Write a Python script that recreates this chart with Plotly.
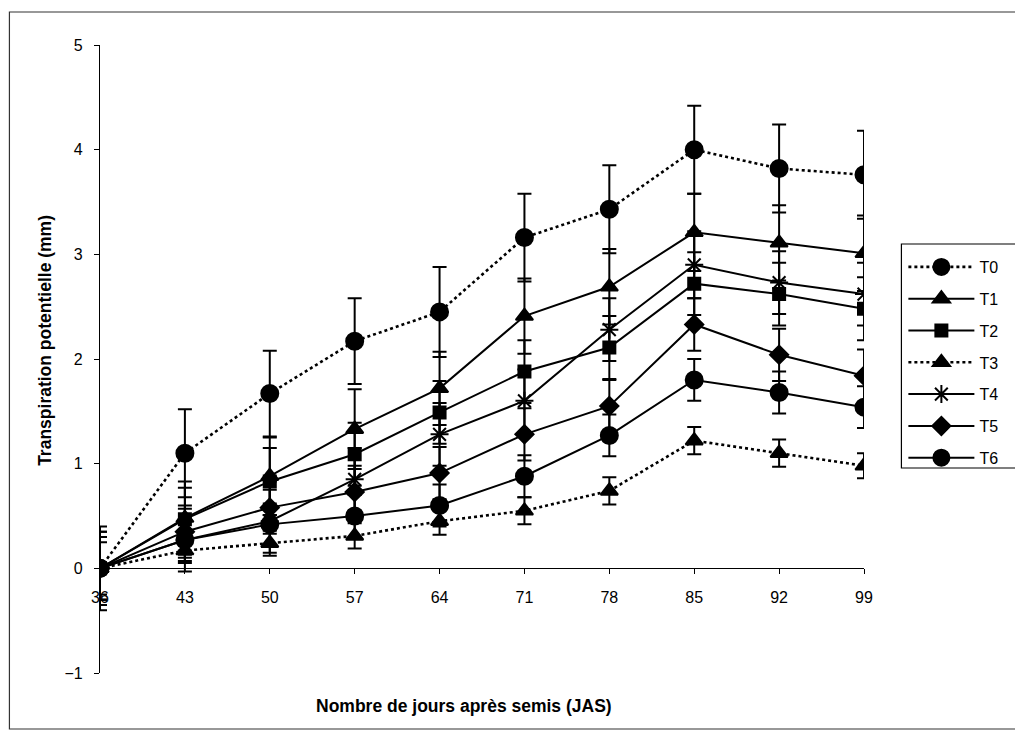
import plotly.graph_objects as go

days = ["36", "43", "50", "57", "64", "71", "78", "85", "92", "99"]

T0 = [0, 1.10, 1.67, 2.17, 2.45, 3.16, 3.43, 4.00, 3.82, 3.76]
T1 = [0, 0.48, 0.88, 1.33, 1.72, 2.41, 2.69, 3.21, 3.11, 3.01]
T2 = [0, 0.47, 0.83, 1.09, 1.49, 1.88, 2.11, 2.72, 2.62, 2.48]
T3 = [0, 0.17, 0.24, 0.31, 0.45, 0.55, 0.74, 1.22, 1.10, 0.98]
T4 = [0, 0.27, 0.45, 0.85, 1.28, 1.60, 2.28, 2.90, 2.73, 2.62]
T5 = [0, 0.35, 0.58, 0.73, 0.91, 1.28, 1.55, 2.33, 2.04, 1.84]
T6 = [0, 0.27, 0.42, 0.50, 0.60, 0.88, 1.27, 1.80, 1.68, 1.54]

E0 = [0.40, 0.42, 0.41, 0.41, 0.43, 0.42, 0.42, 0.42, 0.42, 0.42]
E1 = [0.35, 0.35, 0.37, 0.38, 0.35, 0.36, 0.36, 0.37, 0.36, 0.36]
E2 = [0.30, 0.30, 0.32, 0.30, 0.30, 0.30, 0.30, 0.30, 0.30, 0.30]
E3 = [0.35, 0.12, 0.12, 0.12, 0.13, 0.13, 0.13, 0.13, 0.13, 0.12]
E4 = [0.30, 0.30, 0.30, 0.30, 0.30, 0.30, 0.30, 0.32, 0.30, 0.30]
E5 = [0.30, 0.25, 0.25, 0.25, 0.25, 0.25, 0.25, 0.25, 0.25, 0.25]
E6 = [0.25, 0.20, 0.20, 0.20, 0.20, 0.20, 0.20, 0.20, 0.20, 0.20]

names = ["T0", "T1", "T2", "T3", "T4", "T5", "T6"]
series = [T0, T1, T2, T3, T4, T5, T6]
errors = [E0, E1, E2, E3, E4, E5, E6]
dashes = ["dot", "solid", "solid", "dot", "solid", "solid", "solid"]
symbols = ["circle", "triangle-up", "square", "triangle-up", "asterisk-open", "diamond", "circle"]
sizes = [17, 15, 12, 15, 15, 14, 17]

# pixel geometry helpers (plot area: x 100..876, y 45..673)
L, R, T, B = 100, 876, 45, 673
W, H = 1015, 737
def px(x):
    return (x - L) / (R - L)
def py(y):
    return (B - y) / (B - T)

FONT = "Liberation Sans, Arial, sans-serif"
xidx = list(range(len(days)))

fig = go.Figure()
for i, (n, s, e) in enumerate(zip(names, series, errors)):
    fig.add_trace(go.Scatter(
        x=xidx, y=s, name=n, mode="lines+markers",
        legendgroup=n,
        line=dict(color="black", width=2 if dashes[i] == "solid" else 2.6, dash=dashes[i]),
        marker=dict(symbol=symbols[i], size=sizes[i], color="black",
                    line=dict(color="black", width=2)),
        error_y=dict(type="data", array=e, visible=True, color="black",
                     thickness=2, width=7),
    ))

fig.update_layout(
    width=W, height=H,
    margin=dict(l=L, r=W - R, t=T, b=H - B),
    paper_bgcolor="white", plot_bgcolor="white",
    font=dict(family=FONT, size=16, color="black"),
    showlegend=True,
    legend=dict(
        x=px(916), y=py(250), xanchor="left", yanchor="top",
        bgcolor="rgba(0,0,0,0)", borderwidth=0,
        font=dict(family=FONT, size=16, color="black"),
        tracegroupgap=8, itemwidth=66, traceorder="grouped",
    ),
    xaxis=dict(
        range=[0, 9], tickmode="array", tickvals=xidx, ticktext=days,
        showgrid=False, zeroline=False, showline=True, linecolor="black",
        linewidth=1.2, ticks="outside", ticklen=5, tickcolor="black",
        anchor="free", position=1 / 6, ticklabelstandoff=9,
        tickfont=dict(family=FONT, size=16),
    ),
    yaxis=dict(
        range=[-1, 5], tickmode="array", tickvals=[-1, 0, 1, 2, 3, 4, 5],
        showgrid=False, zeroline=False, showline=True, linecolor="black",
        linewidth=1.2, ticks="outside", ticklen=5, tickcolor="black",
        ticklabelstandoff=8, tickfont=dict(family=FONT, size=16),
    ),
    shapes=[
        dict(type="rect", xref="paper", yref="paper",
             x0=px(8), x1=px(1030), y0=py(729), y1=py(12),
             line=dict(color="#333333", width=1.2), layer="below"),
        dict(type="rect", xref="paper", yref="paper",
             x0=px(914), x1=px(1030), y0=py(468), y1=py(244),
             line=dict(color="black", width=1.2), layer="below"),
    ],
    annotations=[
        dict(text="<b>Transpiration potentielle (mm)</b>", xref="paper", yref="paper",
             x=px(44), y=py(340), textangle=-90, showarrow=False,
             font=dict(family=FONT, size=17.5, color="black"),
             xanchor="center", yanchor="middle"),
        dict(text="<b>Nombre de jours après semis (JAS)</b>", xref="paper", yref="paper",
             x=px(470), y=py(706), showarrow=False,
             font=dict(family=FONT, size=17.5, color="black"),
             xanchor="center", yanchor="middle"),
    ],
)

fig.write_html("out.html")
